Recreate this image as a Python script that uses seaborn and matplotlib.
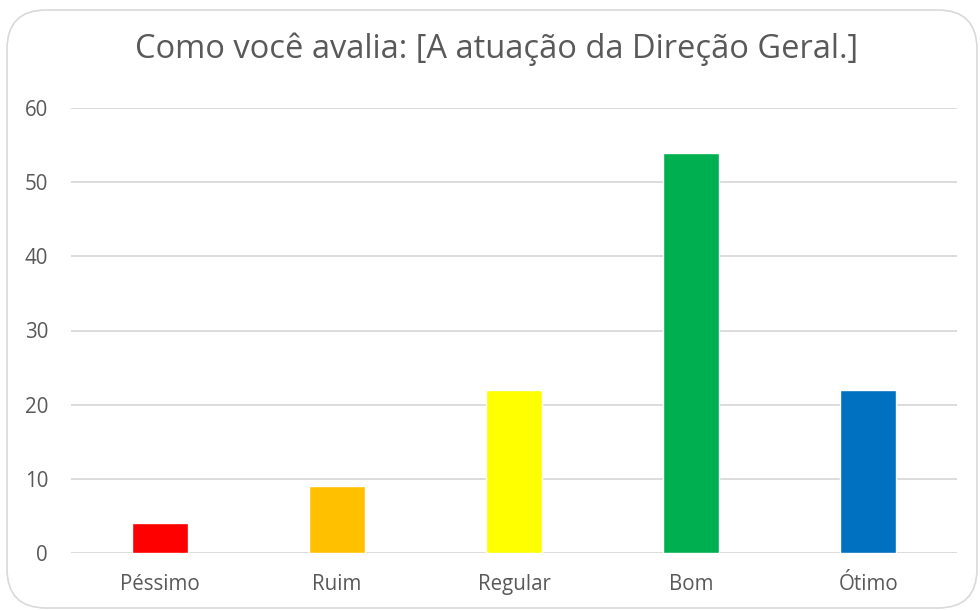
import matplotlib
matplotlib.use('Agg')
import matplotlib.pyplot as plt
import seaborn as sns
import pandas as pd
from matplotlib.patches import FancyBboxPatch

# Data
categories = ['Péssimo', 'Ruim', 'Regular', 'Bom', 'Ótimo']
counts = [4, 9, 22, 54, 22]
bar_colors = ['#FF0000', '#FFC000', '#FFFF00', '#00B050', '#0070C0']
y_ticks = [0, 10, 20, 30, 40, 50, 60]

text_color = '#595959'
grid_color = '#D9D9D9'

sns.set_style('white')
plt.rcParams['font.family'] = ['Open Sans', 'DejaVu Sans']

df = pd.DataFrame({'categoria': categories, 'n': counts})

fig = plt.figure(figsize=(9.8, 6.11), dpi=100)
ax = fig.add_axes([71 / 980, 1 - 553 / 611, (957 - 71) / 980, (553 - 108) / 611])

sns.barplot(data=df, x='categoria', y='n', hue='categoria', palette=bar_colors,
            legend=False, width=0.316, saturation=1, ax=ax, zorder=3)

ax.set_ylim(0, 60)
ax.set_yticks(y_ticks)
ax.set_xlim(-0.5, len(categories) - 0.5)
ax.grid(axis='y', color=grid_color, linewidth=1.3, zorder=0)
ax.grid(axis='x', visible=False)
for s in ax.spines.values():
    s.set_visible(False)
ax.set_xlabel('')
ax.set_ylabel('')
ax.tick_params(axis='both', length=0, labelsize=14.8, colors=text_color)
ax.tick_params(axis='y', pad=16.5)
ax.tick_params(axis='x', pad=15)
for lbl in ax.get_yticklabels():
    lbl.set_horizontalalignment('right')

fig.text(0.507, 1 - 49 / 611, 'Como você avalia: [A atuação da Direção Geral.]',
         ha='center', va='center', fontsize=23.5, color=text_color)

# rounded chart border
border = FancyBboxPatch((7 / 980, 3 / 611), 970 / 980, 598 / 611,
                        boxstyle='round,pad=0,rounding_size=0.04',
                        transform=fig.transFigure, fill=False,
                        edgecolor='#D9D9D9', linewidth=1.2,
                        mutation_aspect=980 / 611)
fig.patches.append(border)

fig.savefig('out.png', dpi=100)
